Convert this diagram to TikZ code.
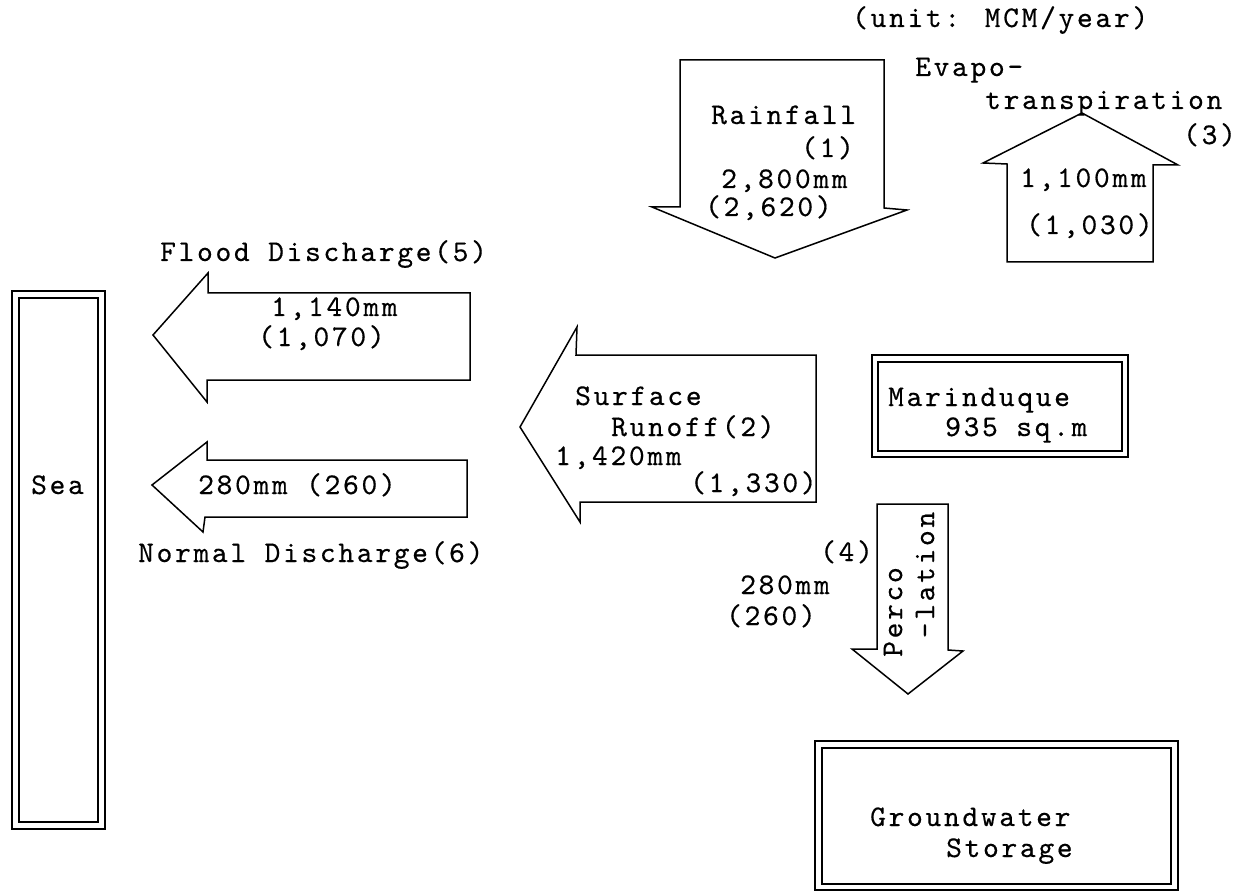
\documentclass[tikz,border=0pt]{standalone}
\usepackage{fontspec}
\newfontfamily\tw{lmmono10-regular.otf}[LetterSpace=9,FakeBold=0.4]
\begin{document}
\begin{tikzpicture}[x=1pt,y=-1pt,line join=miter,
  lbl/.style={anchor=base west,inner sep=0pt,font=\tw\fontsize{30}{32}\selectfont},
  rlbl/.style={anchor=center,inner sep=0pt,rotate=90,font=\tw\fontsize{30}{32}\selectfont},
  blockarrow/.style={draw,line width=1.5pt},
  dbox/.style={draw,line width=1.5pt}]
\useasboundingbox (0,0) rectangle (1237,893);
% block arrows
\draw[blockarrow] (680,60) -- (884,60) -- (884,208) -- (907,210) -- (775,258) -- (652,207) -- (680,207) -- cycle;
\draw[blockarrow] (1007,262) -- (1007,164) -- (983,163) -- (1082,113) -- (1178,165) -- (1153,165) -- (1153,262) -- cycle;
\draw[blockarrow] (470,293) -- (208,293) -- (208,273) -- (153,335) -- (207,402) -- (207,380) -- (470,380) -- cycle;
\draw[blockarrow] (467,460) -- (207,460) -- (207,442) -- (152,485) -- (203,532) -- (205,517) -- (467,517) -- cycle;
\draw[blockarrow] (816,355) -- (576,355) -- (577,327) -- (520,427) -- (580,522) -- (580,502) -- (816,502) -- cycle;
\draw[blockarrow] (877,504) -- (948,504) -- (948,650) -- (963,651) -- (908,694) -- (852,649) -- (877,649) -- cycle;
% double boxes
\draw[dbox] (12,291) rectangle (105,829);
\draw[dbox] (19,298) rectangle (98,822);
\draw[dbox] (872,355) rectangle (1128,457);
\draw[dbox] (878,362) rectangle (1122,451);
\draw[dbox] (815,741) rectangle (1178,890);
\draw[dbox] (822,748) rectangle (1171,884);
% texts
\node[lbl] (unit) at (852,27) {(unit: MCM/year)};
\node[lbl] (rf1) at (711,124) {Rainfall};
\node[lbl] (rf2) at (801,157) {(1)};
\node[lbl] (rf3) at (721,188) {2,800mm};
\node[lbl] (rf4) at (705,216) {(2,620)};
\node[lbl] (ev1) at (915,76) {Evapo-};
\node[lbl] (ev2) at (985,109) {transpiration};
\node[lbl] (ev3) at (1183,144) {(3)};
\node[lbl] (ev4) at (1020,187) {1,100mm};
\node[lbl] (ev5) at (1026,234) {(1,030)};
\node[lbl] (fd1) at (160,261) {Flood Discharge(5)};
\node[lbl] (fd2) at (271,316) {1,140mm};
\node[lbl] (fd3) at (258,346) {(1,070)};
\node[lbl] (sr1) at (575,405) {Surface};
\node[lbl] (sr2) at (611,436) {Runoff(2)};
\node[lbl] (sr3) at (555,465) {1,420mm};
\node[lbl] (sr4) at (690,492) {(1,330)};
\node[lbl] (ma1) at (888,406) {Marinduque};
\node[lbl] (ma2) at (945,436) {935 sq.m};
\node[lbl] (pc1) at (820,561) {(4)};
\node[lbl] (pc2) at (740,594) {280mm};
\node[lbl] (pc3) at (726,625) {(260)};
\node[rlbl] (pc4) at (893,612) {Perco};
\node[rlbl] (pc5) at (925,575) {-lation};
\node[lbl] (nd1) at (198,494) {280mm (260)};
\node[lbl] (nd2) at (138,562) {Normal Discharge(6)};
\node[lbl] (sea) at (31,494) {Sea};
\node[lbl] (gw1) at (870,826) {Groundwater};
\node[lbl] (gw2) at (946,857) {Storage};
\end{tikzpicture}
\end{document}
